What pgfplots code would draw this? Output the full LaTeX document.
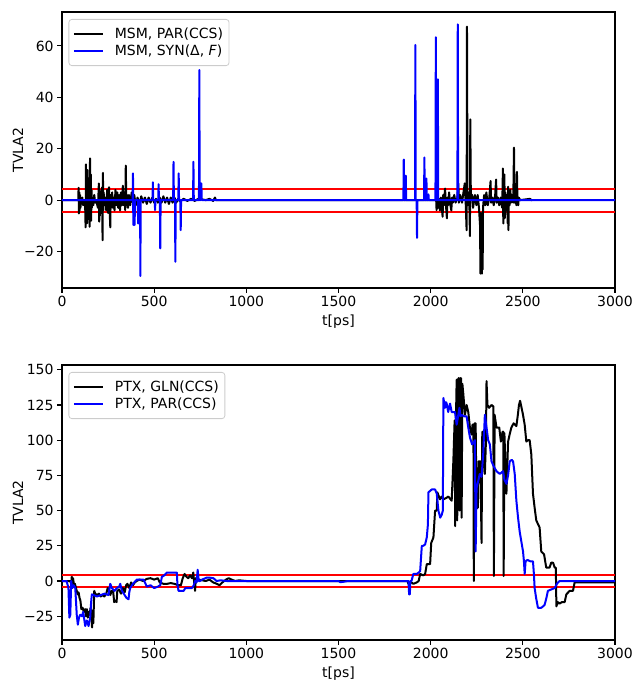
\documentclass[border=0pt]{standalone}
\usepackage{pgfplots}
\pgfplotsset{compat=1.18}
\usepackage{fontspec}
\setmainfont{DejaVu Sans}
\newcommand{\fs}{\fontsize{14}{16.8}\selectfont}
\pgfplotsset{
  mpl/.style={
    scale only axis, width=553pt,
    xmin=0, xmax=3000,
    xtick={0,500,1000,1500,2000,2500,3000},
    xticklabels={0,500,1000,1500,2000,2500,3000},
    axis line style={black, line width=1.1pt},
    tick align=outside, xtick pos=lower, ytick pos=left,
    major tick length=4.9pt,
    every tick/.style={black, line width=1.1pt},
    tick label style={font=\fs},
    label style={font=\fs},
    xlabel={t[ps]}, ylabel={TVLA2},
    every axis x label/.style={at={(axis description cs:0.5,0)}, anchor=center, yshift=-34pt},
    every axis y label/.style={at={(axis description cs:0,0.5)}, anchor=center, rotate=90, yshift=44pt},
    legend style={at={(0,1)}, anchor=north west, xshift=6.5pt, yshift=-7pt,
      draw=black!20, line width=0.8pt, rounded corners=3pt, fill=white, fill opacity=0.8, text opacity=1,
      font=\fs, row sep=1pt, inner xsep=4pt, inner ysep=6.5pt},
    legend cell align=left,
    legend image code/.code={\draw[#1, line width=2pt] (0pt,0pt) -- (29pt,0pt);},
    every axis plot/.append style={line join=round},
  }
}
\begin{document}
\begin{tikzpicture}[x=1pt,y=1pt,font=\fs]
\path[use as bounding box] (0,0) rectangle (635,683);
% ---------------- top axis ----------------
\begin{axis}[mpl, at={(62pt,395pt)}, anchor=south west, height=276pt,
  ymin=-34.2, ymax=73.2,
  ytick={-20,0,20,40,60}, yticklabels={−20,0,20,40,60}]
\addplot[red, line width=2pt, forget plot] coordinates {(0,4.5) (3000,4.5)};
\addplot[red, line width=2pt, forget plot] coordinates {(0,-4.5) (3000,-4.5)};
\addplot[black, line width=2pt] table {
t v
0 0
88 0
90 4.8
92 -5.2
94 3
96 -4
98 2
100 -3
104 0
110 1
115 -2
125 0
128 -10.6
130 13.9
132 -8
134 6
136 -9
138 11.7
140 -5
142 8
144 -7
146 3
150 -10.4
152 16.2
154 -6
156 10
158 -8
160 4
162 -3
165 1
170 -2
175 2
180 -1
185 0
195 -3
200 6.5
202 -8.4
204 4
206 -6
208 2
212 -3
218 5
220 -15.6
222 10.6
224 -4
226 3
230 -2
236 1
240 -4
245 4
250 -5
255 5
258 -3
262 -10.6
264 2
268 -2
272 3
276 -3
280 1
285 -4
290 4
295 -2
300 3
305 -3
310 2
315 -4
320 3
325 -2
330 5.6
333 -2
338 3
343 -3.9
346 13.4
349 -2
353 2
358 -3
363 2
370 -2
378 3
385 -1
392 2
400 -2
410 1
420 -2
430 1.5
440 -1
450 1
460 -1.5
470 1
480 -1
490 1
500 -1
510 0.5
520 -1
530 1
540 -1
550 1.5
560 -1
570 1
580 -1.5
590 1
600 -1
610 1
620 -1
630 0.5
640 -0.5
660 0.5
680 -0.3
700 0.5
720 -0.3
740 0.5
760 0.3
780 0
800 0.5
820 -0.3
830 1
835 0
850 0
2030 0
2032 -3.9
2036 1
2040 -3
2045 0.5
2050 -4
2055 1
2060 -3
2065 -6.5
2068 2
2072 -2
2078 4.5
2082 -1
2088 -7.1
2091 1
2095 -2
2100 3
2105 -1
2112 -4
2116 1
2120 -1
2128 2
2135 -1
2145 1
2150 6.5
2153 -1
2160 2
2170 -1
2178 3
2185 6.5
2190 -1
2195 -11.7
2197 67.5
2200 -2
2205 3
2210 -1
2213 -14
2215 31.4
2218 0
2225 2
2230 -3
2240 2
2248 -2
2255 2
2262 -3
2268 -10
2270 -28.6
2272 -5
2274 -28
2276 -15
2278 -28.6
2280 -8
2282 -27
2284 -3
2290 2
2296 -2
2302 3
2310 -2
2318 1
2325 7.4
2328 -1
2335 1
2342 -2
2350 2
2355 8
2358 -1
2365 1
2372 -2
2380 1
2388 -3
2392 12.3
2394 -9.1
2396 8
2398 -6
2400 10
2402 -7
2405 3
2410 -4
2414 2
2418 -9
2420 5.2
2422 -11.7
2424 3
2428 -2
2432 4
2436 -1
2440 2
2448 -1
2452 20.4
2455 -1
2460 1
2465 -2
2468 11
2471 -1
2475 -2
2478 1
2485 0
2540 0.5
2545 0
2550 0
};
\addlegendentry{\hspace{9pt}MSM, PAR(CCS)}
\addplot[blue, line width=2pt] table {
t v
0 0
383 0
385 10.4
387 -9.7
389 0
392 0
394 -9.7
396 0
411 0
413 -9.1
415 0
418 -9.1
420 0
424 0
425 -29.5
427 0
491 0
493 6.9
495 0
503 0
505 -3.9
507 0
522 0
524 6.2
526 0
531 0
533 -18.8
535 0
603 0
605 14.9
607 0
613 0
615 -24
617 0
631 0
633 10.4
635 0
642 0
644 -11.7
646 0
711 0
713 14.9
715 0
743 0
745 50.6
747 0
752 0
754 6.5
756 6.5
758 0
1852 0
1854 15.8
1856 0
1863 0
1865 9.5
1867 0
1915 0
1917 60.4
1919 0
1924 0
1926 -14.7
1928 0
1964 0
1966 16.6
1968 0
1975 0
1977 8.4
1979 0
1986 0
1988 2.2
1990 0
2026 0
2028 63.4
2030 0
2037 0
2039 47
2041 0
2145 0
2147 68.4
2149 0
3000 0
};
\addlegendentry{\hspace{9pt}MSM, SYN(Δ, \textit{F})}
\end{axis}
% ---------------- bottom axis ----------------
\begin{axis}[mpl, at={(62pt,43pt)}, anchor=south west, height=275pt,
  ymin=-41.9, ymax=153.4,
  ytick={-25,0,25,50,75,100,125,150}, yticklabels={−25,0,25,50,75,100,125,150}]
\addplot[red, line width=2pt, forget plot] coordinates {(0,4.5) (3000,4.5)};
\addplot[red, line width=2pt, forget plot] coordinates {(0,-4.5) (3000,-4.5)};
\addplot[black, line width=2pt] table {
t v
0 0
45 0
50 -2
53 3
56 -5
60 2
65 -3
70 -2
78 -6
85 -9.5
90 -8
95 -12
100 -14
105 -20
112 -19
118 -22
125 -20
130 -25
135 -20
140 -26
145 -22
150 -24
155 -19
160 -26
163 -33
166 -21
170 -30
172 -21
175 -7
180 -9
190 -10
200 -9
210 -11
220 -10
230 -11
240 -9
248 -5
255 -6
262 -10
270 -7
278 -8
283 -15
290 -14
296 -15
300 -7
310 -6
320 -9
330 -5
340 -8
348 -3
355 -2
365 -5
375 -1
385 -3
395 -1
405 0
420 1
440 0
460 1.5
480 2
500 1
520 2
530 -1
550 -2
570 -2
590 -1.5
610 -2
630 -3
645 -3
655 2
665 5
675 3
685 2
695 4
705 2
712 6
718 -2
722 -7
726 2
730 0
740 1
760 0.5
780 0
800 1
820 -1
840 -2
855 -3
870 -1
890 1
905 2
920 1
940 0
960 0.5
1000 0
1875 0
1879 -2
1895 -1
1906 -2
1925 -1
1935 0
1943 5
1960 4
1970 5
1979 12
1997 12
2003 27
2015 31
2024 50
2033 50
2036 63
2051 58
2060 60
2069 58
2085 59
2096 60
2114 57
2123 85
2130 114
2133 39
2137 114
2141 143
2144 43
2150 144
2154 144
2157 50
2161 144
2165 144
2168 45
2172 140
2177 133
2186 118
2195 125
2204 120
2213 109
2222 104
2227 111
2232 111
2234 0
2238 112
2244 112
2249 52
2256 52
2260 85
2270 85
2276 27
2280 106
2294 76
2300 100
2303 142
2308 125
2317 123
2330 125
2340 124
2343 3.5
2347 118
2357 109
2372 109
2381 99
2390 106
2394 106
2396 3.5
2400 105
2411 62
2420 99
2430 105
2438 109
2450 112
2465 110
2473 118
2479 125
2485 128
2490 125
2501 118
2510 111
2519 99
2528 100
2537 100
2546 90
2555 62
2564 52
2573 43
2591 38
2600 21
2615 19
2627 9.5
2645 9.5
2654 13
2664 13
2673 9.5
2679 9.5
2682 -18
2690 -15
2700 -16
2712 -15
2727 -15
2736 -9.5
2754 -7
2772 -7
2781 -1
2790 -1
3000 -1
};
\addlegendentry{\hspace{9pt}PTX, GLN(CCS)}
\addplot[blue, line width=2pt] table {
t v
0 0
25 0
35 -5
40 -26
45 -24
50 0
55 -5
63 -3
72 -5
80 -24
86 -31
92 -26
99 -24
108 -25
115 -22
126 -32
135 -28
144 -32
153 -26
158 -15
162 -9.5
171 -10
190 -11
210 -10
230 -9
252 -10
258 -5
262 -2
270 -5
285 -7
298 -5
310 -4
316 -2
325 -7
340 -10
350 -12
361 -13
365 -8
370 -5
385 -2
406 1
420 1
442 1
450 -1
460 -4
480 -3
500 -5
520 -4
533 -3
542 3
555 4
569 6
590 6
610 6
623 6
626 -2
632 -7
650 -7
660 -7
669 -5
690 -5
705 -5
715 -3
722 0
730 -1
736 8
742 0
749 0
760 1
785 2.4
800 2.4
821 2
839 0
860 0.5
893 0
960 0
1000 0
1500 0
1510 -0.8
1530 -0.5
1550 0
1880 0
1883 -9.5
1887 -9.5
1890 0
1896 0
1906 5
1924 5
1935 6
1943 7
1952 25
1960 25
1970 26
1979 31
1985 40
1988 63
2006 65
2024 65
2033 62
2042 50
2052 45
2060 47
2066 50
2069 130
2078 123
2083 127
2087 126
2095 120
2105 126
2114 120
2132 120
2141 111
2150 118
2156 123
2162 117
2168 118
2180 117
2195 117
2204 109
2213 102
2225 97
2240 100
2244 21
2249 66
2258 71
2266 76
2276 74
2285 90
2294 118
2303 109
2312 100
2321 97
2330 85
2340 82
2348 80
2357 78
2375 76
2393 78
2400 72
2411 69
2420 75
2429 85
2440 86
2447 85
2456 76
2465 57
2474 45
2483 35
2492 28
2501 21
2506 14
2510 5
2515 14
2525 15
2540 14
2555 14
2560 5
2564 -5
2572 -12
2582 -19
2600 -19
2610 -18
2618 -17
2628 -12
2636 -7
2654 -6
2673 -5
2685 -2
2691 -1
2700 0
3000 0
};
\addlegendentry{\hspace{9pt}PTX, PAR(CCS)}
\end{axis}
\end{tikzpicture}
\end{document}
